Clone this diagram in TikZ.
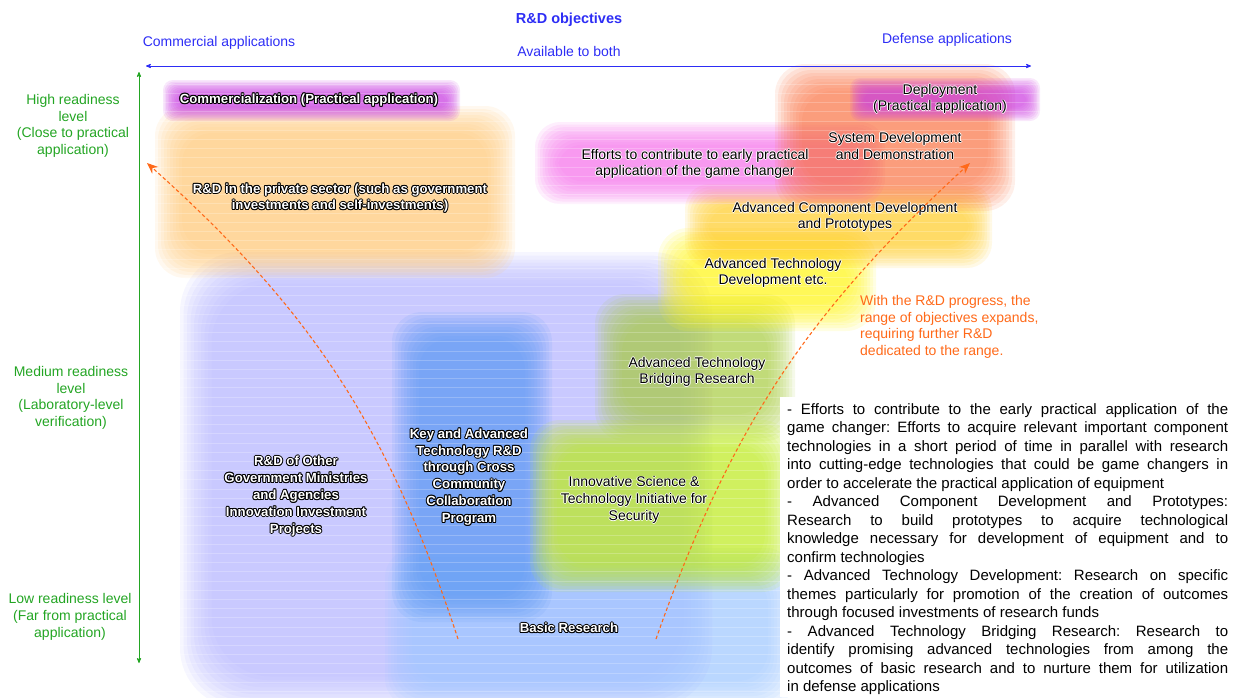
\documentclass[tikz,border=0pt]{standalone}
\usepackage{fontspec}
\setmainfont{Liberation Sans}
\usetikzlibrary{arrows,arrows.meta}

\definecolor{axisblue}{RGB}{45,45,245}
\definecolor{lvlgreen}{RGB}{35,165,35}
\definecolor{progorange}{RGB}{255,105,25}
\definecolor{lavender}{RGB}{180,180,255}
\definecolor{basicblue}{RGB}{160,200,255}
\definecolor{keyblue}{RGB}{95,155,245}
\definecolor{privorange}{RGB}{255,200,120}
\definecolor{commag}{RGB}{200,60,225}
\definecolor{bridgegreen}{RGB}{170,205,70}
\definecolor{innolime}{RGB}{190,235,35}
\definecolor{atdyellow}{RGB}{255,245,25}
\definecolor{acdyellow}{RGB}{255,205,45}
\definecolor{effpink}{RGB}{245,115,235}
\definecolor{sysred}{RGB}{250,120,75}
\definecolor{depmag}{RGB}{205,65,225}

% white letters with a black rim
\newcommand{\halo}[1]{\leavevmode\hbox{%
  \rlap{\color{black}\kern1pt#1}\rlap{\color{black}\kern-1pt#1}%
  \rlap{\color{black}\raisebox{1pt}{#1}}\rlap{\color{black}\raisebox{-1pt}{#1}}%
  \rlap{\color{black}\kern.7pt\raisebox{.7pt}{#1}}\rlap{\color{black}\kern-.7pt\raisebox{.7pt}{#1}}%
  \rlap{\color{black}\kern.7pt\raisebox{-.7pt}{#1}}\rlap{\color{black}\kern-.7pt\raisebox{-.7pt}{#1}}%
  {\color{white}#1}}}
% black letters with a soft white rim
\newcommand{\glow}[1]{\leavevmode\hbox{%
  \rlap{\color{white}\kern.9pt#1}\rlap{\color{white}\kern-.9pt#1}%
  \rlap{\color{white}\raisebox{.9pt}{#1}}\rlap{\color{white}\raisebox{-.9pt}{#1}}%
  {\color{black}#1}}}
% soft coloured area: colour, x1, y1, x2, y2, inset step, corner radius
\newcommand{\blob}[7]{%
  \foreach \k in {0,...,9}{%
    \fill[#1, fill opacity=0.12, rounded corners=#7]
      ({#2+#6*\k},{#3+#6*\k}) rectangle ({#4-#6*\k},{#5-#6*\k});}}

\begin{document}
\begin{tikzpicture}[x=1pt,y=-1pt,>=stealth',
  lbl/.style={font=\fontsize{14}{16.7}\selectfont,align=center,inner sep=0pt},
  blue lbl/.style={lbl,text=axisblue},
  level lbl/.style={lbl,text=lvlgreen},
  area lbl/.style={lbl},
  bold lbl/.style={lbl,font=\fontsize{13.2}{16.8}\selectfont\bfseries},
  axis/.style={<->,line width=0.8pt},
  progress/.style={-{Stealth[length=11pt,width=9pt]},progorange,line width=1.1pt,
    dash pattern=on 3.5pt off 2.5pt}]

  \useasboundingbox (0,0) rectangle (1246,697);

  % coloured areas, back to front
  \blob{lavender}{180}{252}{712}{708}{3.5}{60}
  \blob{basicblue}{385}{548}{795}{708}{3}{30}
  \blob{keyblue}{392}{312}{552}{622}{3}{30}
  \blob{privorange}{155}{106}{515}{278}{3}{30}
  \blob{commag}{163}{80}{460}{121}{1.5}{10}
  \blob{bridgegreen}{595}{294}{795}{441}{3}{30}
  \blob{innolime}{530}{420}{792}{592}{3}{30}
  \blob{atdyellow}{658}{228}{876}{331}{3}{30}
  \blob{acdyellow}{685}{184}{992}{268}{2.5}{25}
  \blob{effpink}{535}{122}{885}{204}{2.5}{25}
  \blob{sysred}{775}{64}{1015}{211}{3}{30}
  \blob{depmag}{850}{78}{1040}{121}{1.5}{10}

  % fine stripes over the areas
  \foreach \y in {84,93.2,...,697}
    \draw[white,opacity=0.22,line width=0.4pt] (150,\y) -- (1045,\y);

  % white panel under the notes
  \fill[white] (780,397) rectangle (1246,697);

  % headings and axes
  \node[blue lbl,font=\fontsize{14.5}{16}\selectfont\bfseries] (OBJ) at (569,20) {R\&D objectives};
  \node[blue lbl] (COM) at (219,43) {Commercial applications};
  \node[blue lbl] (BOTH) at (569,51) {Available to both};
  \node[blue lbl] (DEF) at (947,40) {Defense applications};
  \coordinate (hl) at (146,66);
  \coordinate (hr) at (1031,66);
  \draw[axis,axisblue] (hl) -- (hr);

  \coordinate (vt) at (139,72);
  \coordinate (vb) at (139,663);
  \draw[axis,lvlgreen] (vt) -- (vb);
  \node[level lbl] (HIGH) at (73,126) {High readiness\\level\\(Close to practical\\application)};
  \node[level lbl] (MED) at (71,398) {Medium readiness\\level\\(Laboratory-level\\verification)};
  \node[level lbl] (LOW) at (70,617) {Low readiness level\\(Far from practical\\application)};

  % commercial side
  \node[bold lbl] (CZ) at (309,100) {\halo{Commercialization (Practical application)}};
  \node[bold lbl] (PRIV) at (340,198) {\halo{R\&D in the private sector (such as government}\\\halo{investments and self-investments)}};
  \node[bold lbl] (OGM) at (296,496) {\halo{R\&D of Other}\\\halo{Government Ministries}\\\halo{and Agencies}\\\halo{Innovation Investment}\\\halo{Projects}};
  \node[bold lbl] (KAT) at (469,477) {\halo{Key and Advanced}\\\halo{Technology R\&D}\\\halo{through Cross}\\\halo{Community}\\\halo{Collaboration}\\\halo{Program}};
  \node[bold lbl] (BR) at (569,628) {\halo{Basic Research}};

  % defense side
  \node[area lbl] (ATBR) at (697,372) {\glow{Advanced Technology}\\\glow{Bridging Research}};
  \node[area lbl] (ISTI) at (634,500) {\glow{Innovative Science \&}\\\glow{Technology Initiative for}\\\glow{Security}};
  \node[area lbl] (ATD) at (773,273) {\glow{Advanced Technology}\\\glow{Development etc.}};
  \node[area lbl] (ACD) at (845,217) {\glow{Advanced Component Development}\\\glow{and Prototypes}};
  \node[area lbl] (EFF) at (695,164) {\glow{Efforts to contribute to early practical}\\\glow{application of the game changer}};
  \node[area lbl] (SDD) at (895,146) {\glow{System Development}\\\glow{and Demonstration}};
  \node[area lbl] (DEP) at (940,99) {\glow{Deployment}\\\glow{(Practical application)}};

  % progress arrows
  \coordinate (ls) at (458,639);
  \coordinate (le) at (147,163);
  \coordinate (rs) at (656,639);
  \coordinate (re) at (970,163);
  \draw[progress] (ls) to[bend right=15] (le);
  \draw[progress] (rs) to[bend left=14] (re);
  \node[lbl,text=progorange,align=left,anchor=north west] (NOTE) at (860,295)
    {With the R\&D progress, the\\range of objectives expands,\\requiring further R\&D\\dedicated to the range.};

  % notes on the right
  \node[anchor=north west,inner sep=0pt,text width=441pt,align=justify,
    font=\fontsize{15}{18.5}\selectfont\frenchspacing] (DESC) at (787,403) {%
    - Efforts to contribute to the early practical application of the\linebreak
    game changer: Efforts to acquire relevant important component\linebreak
    technologies in a short period of time in parallel with research\linebreak
    into cutting-edge technologies that could be game changers in\linebreak
    order to accelerate the practical application of equipment\par
    - Advanced Component Development and Prototypes:\linebreak
    Research to build prototypes to acquire technological\linebreak
    knowledge necessary for development of equipment and to\linebreak
    confirm technologies\par
    - Advanced Technology Development: Research on specific\linebreak
    themes particularly for promotion of the creation of outcomes\linebreak
    through focused investments of research funds\par
    - Advanced Technology Bridging Research: Research to\linebreak
    identify promising advanced technologies from among the\linebreak
    outcomes of basic research and to nurture them for utilization\linebreak
    in defense applications};

\end{tikzpicture}
\end{document}
